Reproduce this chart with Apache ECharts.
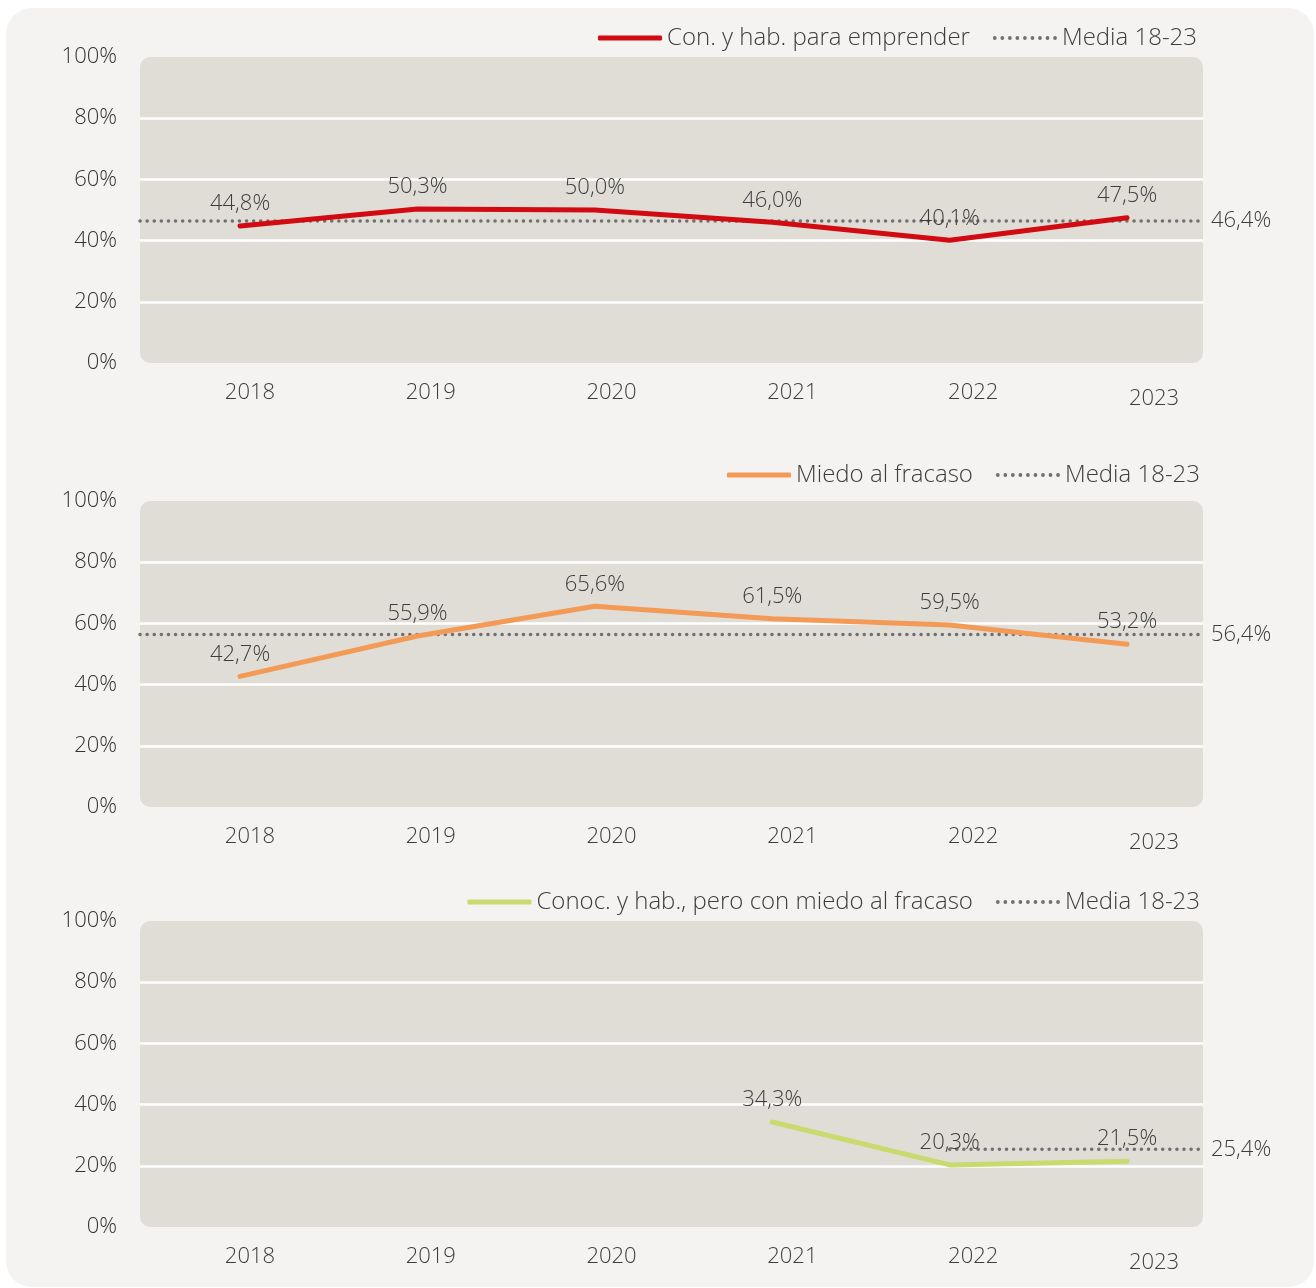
<!DOCTYPE html>
<html>
<head>
<meta charset="utf-8">
<script src="https://cdn.jsdelivr.net/npm/echarts@6/dist/echarts.min.js"></script>
<style>
  html, body { margin: 0; padding: 0; background: #ffffff; }
  #chart { width: 1316px; height: 1288px; }
</style>
</head>
<body>
<div id="chart"></div>
<script>
// datos
const years = [2018, 2019, 2020, 2021, 2022, 2023]
const yTicks = [0, 20, 40, 60, 80, 100]
const names = ['Con. y hab. para emprender', 'Miedo al fracaso', 'Conoc. y hab., pero con miedo al fracaso']
const conHab = [44.8, 50.3, 50.0, 46.0, 40.1, 47.5]
const miedo = [42.7, 55.9, 65.6, 61.5, 59.5, 53.2]
const conMiedo = [null, null, null, 34.3, 20.3, 21.5]
const medias = [46.4, 56.4, 25.4]
const mediaDesde = [null, null, 2022]
const mediaName = 'Media 18-23'

// estilo
const colors = ['#d20a11', '#f39a56', '#c9da6f']
const mediaColor = '#707070'
const panelTops = [57, 501, 921]
const legendTops = [21, 458, 885]
const legendRights = [114, 111, 111]
const plotLeft = 140
const plotWidth = 1063
const plotHeight = 306
// escala horizontal (puntos y etiquetas no coinciden en el original)
const xMin = 2017.436, xMax = 2023.428
const xLabMin = 2017.392, xLabMax = 2023.271

const font = "'Open Sans', 'Noto Sans', sans-serif"
const textColor = '#3d3d3d'
const fmt = v => v.toFixed(1).replace('.', ',') + '%'

// icono punteado para la leyenda (9 puntos)
let dots = ''
for (let k = 0; k < 9; k++) {
  const cx = k * 8 + 2
  dots += 'M' + (cx - 2) + ',2 a2,2 0 1,0 4,0 a2,2 0 1,0 -4,0 Z '
}
const dottedIcon = 'path://' + dots

const seriesData = [conHab, miedo, conMiedo]

const grids = [], xAxes = [], yAxes = [], series = [], legends = []
const graphics = [{
  type: 'rect',
  z: -20,
  shape: { x: 6, y: 8, width: 1308, height: 1279, r: 26 },
  style: { fill: '#f4f3f1' }
}]

for (let i = 0; i < 3; i++) {
  grids.push({ left: plotLeft, top: panelTops[i], width: plotWidth, height: plotHeight })

  graphics.push({
    type: 'rect',
    z: -10,
    shape: { x: plotLeft, y: panelTops[i], width: plotWidth, height: plotHeight, r: 10 },
    style: { fill: '#e0ddd7' }
  })

  // eje para los datos
  xAxes.push({
    type: 'value', gridIndex: i, min: xMin, max: xMax,
    axisLine: { show: false }, axisTick: { show: false },
    axisLabel: { show: false }, splitLine: { show: false }
  })
  // eje solo para las etiquetas de años
  xAxes.push({
    type: 'value', gridIndex: i, min: xLabMin, max: xLabMax, position: 'bottom',
    axisLine: { show: false }, axisTick: { show: false }, splitLine: { show: false },
    axisLabel: {
      customValues: years,
      margin: 19,
      formatter: v => v === 2023 ? '{low|' + v + '}' : '{n|' + v + '}',
      rich: {
        n: { fontFamily: font, fontSize: 22, fontWeight: 300, color: textColor },
        low: { fontFamily: font, fontSize: 22, fontWeight: 300, color: textColor, padding: [6, 0, 0, 0] }
      }
    }
  })

  yAxes.push({
    type: 'value', gridIndex: i, min: yTicks[0], max: yTicks[yTicks.length - 1], interval: 20,
    axisLine: { show: false }, axisTick: { show: false },
    axisLabel: { margin: 23, fontFamily: font, fontSize: 22, fontWeight: 300, color: '#333333', formatter: v => v + '%' },
    splitLine: { show: true, showMinLine: false, showMaxLine: false, lineStyle: { color: '#ffffff', width: 2.5 } }
  })

  series.push({
    name: names[i],
    type: 'line',
    xAxisIndex: i * 2,
    yAxisIndex: i,
    data: years.map((y, k) => [y, seriesData[i][k]]),
    symbol: 'circle',
    symbolSize: 2,
    connectNulls: false,
    lineStyle: { color: colors[i], width: 5, cap: 'round' },
    itemStyle: { color: colors[i] },
    z: 5,
    label: {
      show: true, position: 'top', distance: 10,
      fontFamily: font, fontSize: 22, fontWeight: 300, color: textColor,
      formatter: p => fmt(p.value[1])
    }
  })

  const desde = mediaDesde[i] === null ? xMin : mediaDesde[i]
  series.push({
    name: mediaName,
    type: 'line',
    xAxisIndex: i * 2,
    yAxisIndex: i,
    data: [[desde, medias[i]], [xMax, medias[i]]],
    symbol: 'none',
    silent: true,
    z: 4,
    lineStyle: { color: mediaColor, width: 3.5, type: [0.1, 7], cap: 'round' },
    itemStyle: { color: mediaColor },
    endLabel: {
      show: true, distance: 8,
      fontFamily: font, fontSize: 22, fontWeight: 300, color: textColor,
      formatter: () => fmt(medias[i])
    }
  })

  legends.push({
    data: [
      { name: names[i], icon: 'roundRect', itemStyle: { color: colors[i] } },
      { name: mediaName, icon: dottedIcon, itemStyle: { color: mediaColor } }
    ],
    right: legendRights[i],
    top: legendTops[i],
    itemWidth: 64,
    itemHeight: 5,
    itemGap: 23,
    selectedMode: false,
    textStyle: { fontFamily: font, fontSize: 24, fontWeight: 300, color: textColor }
  })
}

const chart = echarts.init(document.getElementById('chart'))
chart.setOption({
  backgroundColor: '#ffffff',
  animation: false,
  graphic: graphics,
  legend: legends,
  grid: grids,
  xAxis: xAxes,
  yAxis: yAxes,
  series: series
})
</script>
</body>
</html>
